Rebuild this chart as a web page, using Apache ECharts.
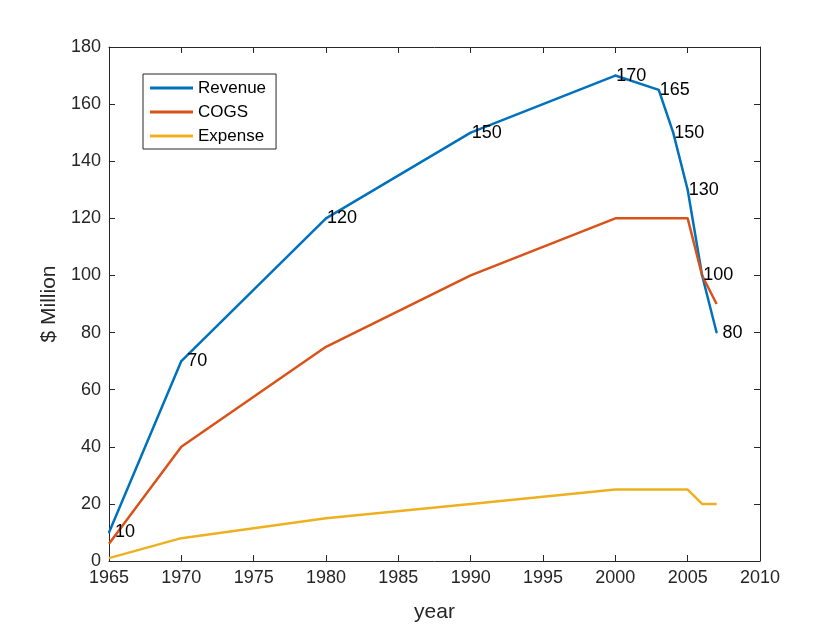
<!DOCTYPE html>
<html>
<head>
<meta charset="utf-8">
<script src="https://cdn.jsdelivr.net/npm/echarts@6/dist/echarts.min.js"></script>
<style>
  html, body { margin: 0; padding: 0; background: #fff; }
  #chart { width: 840px; height: 630px; }
</style>
</head>
<body>
<div id="chart"></div>
<script>
// values
var revYears = [1965, 1970, 1980, 1990, 2000, 2003, 2004, 2005, 2006, 2007];
var revenue  = [10, 70, 120, 150, 170, 165, 150, 130, 100, 80];
var costYears = [1965, 1970, 1980, 1990, 2000, 2005, 2006, 2007];
var cogs      = [6, 40, 75, 100, 120, 120, 100, 90];
var expense   = [1, 8, 15, 20, 25, 25, 20, 20];
var colors = ['#0072BD', '#D95319', '#EDB120'];

function pairs(xs, ys) {
    return xs.map(function (x, i) { return [x, ys[i]]; });
}

var font = 'Liberation Sans, Arial, sans-serif';
var tickColor = '#262626';

var chart = echarts.init(document.getElementById('chart'));

var lineSeries = function (name, data, color, labels) {
    return {
        name: name,
        type: 'line',
        data: data,
        // tiny symbol sitting on the line, only there to carry the labels
        symbol: labels ? 'circle' : 'none',
        symbolSize: 2,
        showSymbol: !!labels,
        itemStyle: { color: color },
        color: color,
        lineStyle: { width: 2.5, color: color },
        label: labels ? {
            show: true,
            position: 'right',
            distance: 0,
            offset: [0, 2],
            color: '#000',
            fontSize: 18,
            fontFamily: font,
            // right-padded like num2str on a column: ' 10', ' 70', '120'
            formatter: function (p) { return ('   ' + p.value[1]).slice(-3); }
        } : { show: false },
        labelLayout: { hideOverlap: false },
        emphasis: { disabled: true },
        animation: false
    };
};

var axisBase = {
    type: 'value',
    axisLine: { show: true, onZero: false, lineStyle: { color: tickColor, width: 1 } },
    axisTick: { show: true, inside: true, length: 6, lineStyle: { color: tickColor } },
    splitLine: { show: false }
};

chart.setOption({
    animation: false,
    grid: { left: 109, right: 80, top: 47, bottom: 69 },
    legend: {
        orient: 'vertical',
        left: 143,
        top: 74,
        padding: [5, 10, 4, 7],
        itemGap: 6,
        itemWidth: 43,
        itemHeight: 3,
        icon: 'rect',
        borderColor: '#262626',
        borderWidth: 1,
        borderRadius: 0,
        backgroundColor: '#fff',
        textStyle: { fontSize: 17, lineHeight: 18, fontFamily: font, color: '#000' },
        data: ['Revenue', 'COGS', 'Expense']
    },
    xAxis: [
        Object.assign({}, axisBase, {
            min: 1965, max: 2010, interval: 5,
            name: 'year',
            nameLocation: 'middle',
            nameGap: 41,
            nameTextStyle: { fontSize: 21, fontFamily: font, color: tickColor },
            axisLabel: { fontSize: 18, fontFamily: font, color: tickColor, margin: 8,
                formatter: function (v) { return String(v); } }
        }),
        Object.assign({}, axisBase, {
            position: 'top',
            min: 1965, max: 2010, interval: 5,
            axisLabel: { show: false }
        })
    ],
    yAxis: [
        Object.assign({}, axisBase, {
            min: 0, max: 180, interval: 20,
            name: '$ Million',
            nameLocation: 'middle',
            nameGap: 46,
            nameTextStyle: { fontSize: 21, fontFamily: font, color: tickColor },
            axisLabel: { fontSize: 18, fontFamily: font, color: tickColor, margin: 8 }
        }),
        Object.assign({}, axisBase, {
            position: 'right',
            min: 0, max: 180, interval: 20,
            axisLabel: { show: false }
        })
    ],
    series: [
        lineSeries('Revenue', pairs(revYears, revenue), colors[0], true),
        lineSeries('COGS', pairs(costYears, cogs), colors[1], false),
        lineSeries('Expense', pairs(costYears, expense), colors[2], false)
    ]
});
</script>
</body>
</html>
